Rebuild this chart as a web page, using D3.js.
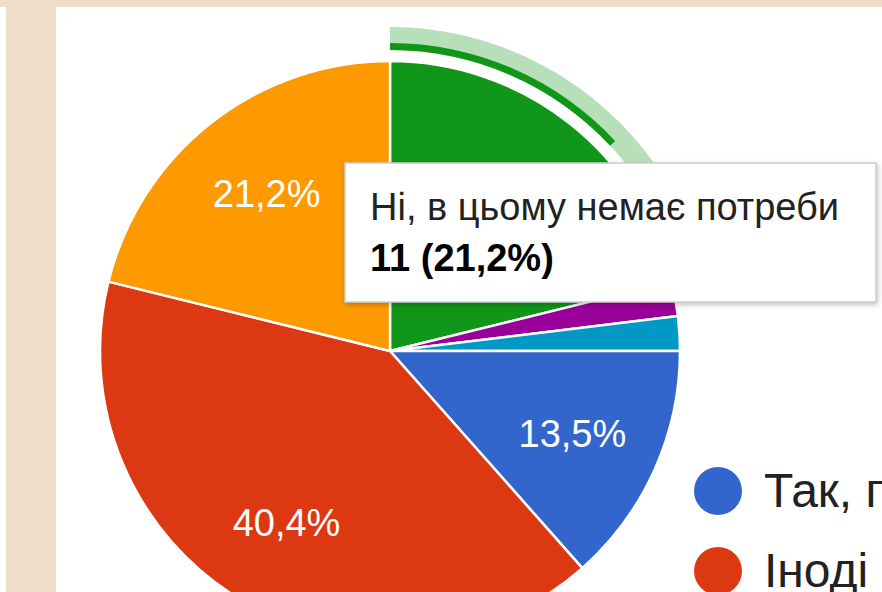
<!DOCTYPE html>
<html>
<head>
<meta charset="utf-8">
<script src="https://cdn.jsdelivr.net/npm/d3@7"></script>
<style>
  html, body { margin: 0; padding: 0; background: #ffffff; overflow: hidden; }
  svg { display: block; }
</style>
</head>
<body>
<svg id="chart" width="882" height="592"></svg>
<script>
// ---- data ----
const categories = [
  "Ні, в цьому немає потреби",
  "Варіант 5",
  "Варіант 6",
  "Так, п",
  "Іноді",
  "Варіант 4"
];
const counts = [11, 1, 1, 7, 21, 11];
const colors = ["#109618", "#990099", "#0099c6", "#3366cc", "#dc3912", "#ff9900"];
const legendItems = ["Так, п", "Іноді"];
const legendColors = ["#3366cc", "#dc3912"];
const hoveredIndex = 0;

// ---- layout ----
const W = 882, H = 592;
const cx = 390, cy = 351, R = 290;
const svg = d3.select("#chart");
const font = "Arial, 'Liberation Sans', sans-serif";

// background page frame
svg.append("rect").attr("x", 0).attr("y", 0).attr("width", W).attr("height", 7).attr("fill", "#efdfca");
svg.append("rect").attr("x", 6).attr("y", 7).attr("width", 50).attr("height", H - 7).attr("fill", "#efdfca");

const total = d3.sum(counts);
const data = counts.map((v, i) => ({ name: categories[i], value: v, color: colors[i], idx: i }));
const pie = d3.pie().sort(null).value(d => d.value).startAngle(0).endAngle(2 * Math.PI);
const arcs = pie(data);
const arc = d3.arc().innerRadius(0).outerRadius(R);
const labelArc = d3.arc().innerRadius(200).outerRadius(200);

const g = svg.append("g").attr("transform", `translate(${cx},${cy})`);

g.selectAll("path.slice").data(arcs).enter().append("path")
  .attr("class", "slice")
  .attr("d", arc)
  .attr("fill", d => d.data.color)
  .attr("stroke", "#ffffff")
  .attr("stroke-width", 2.5)
  .attr("stroke-linejoin", "round");

// hover ring for highlighted slice
const h = arcs[hoveredIndex];
g.append("path")
  .attr("d", d3.arc().innerRadius(301).outerRadius(324).startAngle(h.startAngle).endAngle(h.endAngle)())
  .attr("fill", "#b7dfb9");
g.append("path")
  .attr("d", d3.arc().innerRadius(301).outerRadius(308).startAngle(h.startAngle).endAngle(h.startAngle + 0.82)())
  .attr("fill", "#109618");

// percentage labels (the hovered slice's label lies under the tooltip)
const fmt = v => (Math.round(v / total * 1000) / 10).toFixed(1).replace(".", ",") + "%";
g.selectAll("text.pct")
  .data(arcs.filter(d => d.data.value / total > 0.05 && d.data.idx !== hoveredIndex))
  .enter().append("text")
  .attr("class", "pct")
  .attr("transform", d => `translate(${labelArc.centroid(d)})`)
  .attr("text-anchor", "middle")
  .attr("dy", "0.36em")
  .attr("font-family", font)
  .attr("font-size", 38)
  .attr("fill", "#ffffff")
  .text(d => fmt(d.data.value));

// legend
const lg = svg.append("g");
legendItems.forEach((t, i) => {
  const y = 491 + i * 80;
  lg.append("circle").attr("cx", 718).attr("cy", y).attr("r", 24).attr("fill", legendColors[i]);
  lg.append("text").attr("x", 764).attr("y", y + 16)
    .attr("font-family", font).attr("font-size", 48).attr("fill", "#222222").text(t);
});

// tooltip
const defs = svg.append("defs");
const f = defs.append("filter").attr("id", "shadow").attr("x", "-10%").attr("y", "-10%").attr("width", "120%").attr("height", "130%");
f.append("feDropShadow").attr("dx", 1).attr("dy", 2).attr("stdDeviation", 2.5).attr("flood-color", "#000").attr("flood-opacity", 0.25);

const tt = svg.append("g");
tt.append("rect").attr("x", 345).attr("y", 163).attr("width", 531).attr("height", 139)
  .attr("fill", "#ffffff").attr("stroke", "#cccccc").attr("stroke-width", 1.5)
  .attr("filter", "url(#shadow)");
tt.append("text").attr("x", 370).attr("y", 220)
  .attr("font-family", font).attr("font-size", 38).attr("fill", "#222222")
  .text(categories[hoveredIndex]);
tt.append("text").attr("x", 370).attr("y", 271)
  .attr("font-family", font).attr("font-size", 38).attr("font-weight", "bold").attr("fill", "#000000")
  .text(`${counts[hoveredIndex]} (${fmt(counts[hoveredIndex])})`);
</script>
</body>
</html>
